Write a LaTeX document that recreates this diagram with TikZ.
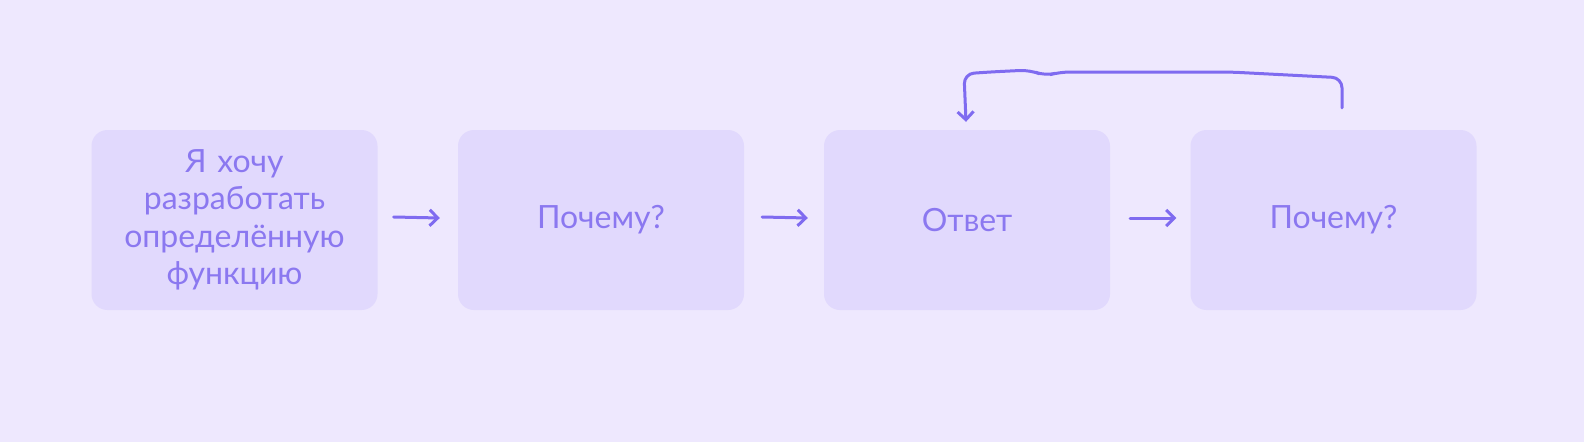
\documentclass[tikz,border=0pt]{standalone}
\usepackage{fontspec}
\setmainfont{Lato}
\usetikzlibrary{arrows.meta,calc}
\definecolor{bg}{HTML}{EEE8FE}
\definecolor{boxc}{HTML}{E1D9FD}
\definecolor{txt}{HTML}{8B78F0}
\definecolor{arr}{HTML}{7F6BF0}
\tikzset{
  card/.style={fill=boxc, rounded corners=16pt, minimum width=286pt, minimum height=180pt,
    text width=270pt, align=center, text=txt, font=\fontsize{32pt}{37.5pt}\selectfont, inner sep=0pt},
  flow/.style={draw=arr, line width=3pt, line cap=round, line join=round,
    -{Straight Barb[length=8pt,width=16pt,line width=3pt]}}
}
\begin{document}
\begin{tikzpicture}[x=1pt,y=-1pt]
\useasboundingbox (0,0) rectangle (1584,442);
\fill[bg] (0,0) rectangle (1584,442);
\node[card] (b1) at (234.5,220) {Я хочу\\разработать\\определённую\\функцию};
\node[card] (b2) at (601,220) {Почему?};
\node[card] (b3) at (967,220) {Ответ};
\node[card] (b4) at (1333.5,220) {Почему?};
\draw[flow] ($(b1.east)+(16,-3)$) -- ($(b2.west)+(-18,-2)$);
\draw[flow] ($(b2.east)+(18,-3)$) -- ($(b3.west)+(-16,-2)$);
\draw[flow] ($(b3.east)+(20,-2)$) -- ($(b4.west)+(-14,-2)$);
\coordinate (s) at ($(b4.north)+(8.5,-22)$);
\coordinate (e) at ($(b3.north)+(-1,-8)$);
\draw[flow, rounded corners=10pt] (s) -- ($(s)+(0,-30)$) -- (1230,72) -- (1060,72) -- (1045,76) -- (1030,70) -- (990,72) -- ($(e)+(-2,-48)$) -- (e);
\end{tikzpicture}
\end{document}
